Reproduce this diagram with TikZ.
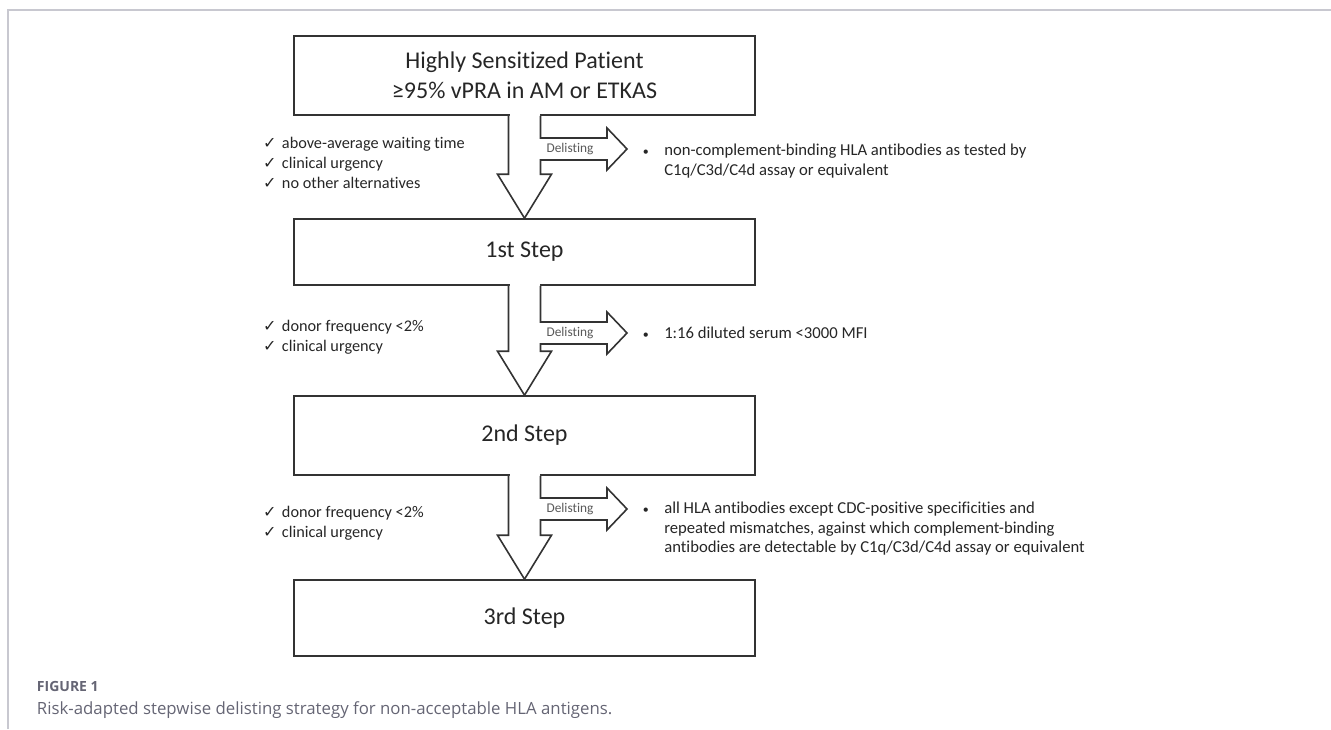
\documentclass[tikz,border=0pt]{standalone}
\usepackage{fontspec}
\setmainfont{Carlito}[Ligatures=CommonOff]
\newfontfamily\captionfont{Open Sans}
\newfontfamily\symfont{DejaVu Sans}
\usepackage{tikz}
\usetikzlibrary{calc}
\usetikzlibrary{positioning}
\definecolor{linegray}{HTML}{333333}
\definecolor{textdark}{HTML}{262626}
\definecolor{delistgray}{HTML}{595959}
\definecolor{captiongray}{HTML}{656574}
\definecolor{framegray}{HTML}{C8C8D0}
\newcommand\chk{\llap{{\symfont\fontsize{12}{15}\selectfont ✓}\hspace{4pt}}}
\newcommand\bul{\llap{{\fontsize{9}{15}\selectfont\textbullet}\hspace{11.5pt}}}
\tikzset{
    % The four stages of the strategy
    stepbox/.style={
        draw=linegray, line width=1.2pt, minimum width=345.75pt,
        align=center, inner sep=0, text=textdark,
        font=\fontsize{18}{22.5}\selectfont},
%
    % Conditions on the left, delisted antibodies on the right
    check list/.style={anchor=west, align=left, inner sep=0, text=textdark,
        font=\fontsize{12.2}{15}\selectfont},
    item list/.style={check list, font=\fontsize{12.5}{14.6}\selectfont},
%
    % Hollow block arrows between the stages
    block arrow/.style={draw=linegray, line width=1.2pt, fill=white,
        line join=miter},
    delist label/.style={inner sep=0, text=delistgray,
        font=\fontsize{10}{12}\selectfont},
%
    % Figure caption below the picture
    caption label/.style={anchor=west, inner sep=0, text=captiongray,
        font=\captionfont\bfseries\fontsize{10.5}{12}\selectfont},
    caption text/.style={anchor=west, inner sep=0, text=captiongray,
        font=\captionfont\fontsize{12.6}{15}\selectfont}}
% #1 upper box, #2 lower box, #3 tip of the side arrow
\newcommand\delistArrow[3]{%
    \fill [white] ($(#1.south)+(-15,-1.5)$) rectangle ($(#1.south)+(15,1.5)$);
    \draw [block arrow] ($(#1.south)+(-16,0)$)
        -- ($(#2.north)+(-16,-44)$) -- ++(-11,0) -- (#2.north)
        -- ++(27,-44) -- ++(-11,0)
        -- ($(#3 -| #1.south)+(16,11)$) -- ($(#3)+(-20,11)$)
        -- ++(0,10) -- (#3) -- ++(-20,-21) -- ++(0,10)
        -- ($(#3 -| #1.south)+(16,-11)$) -- ($(#1.south)+(16,0)$);
    \node [delist label] at ($(#3)+(-57,0)$) {Delisting};}

\begin{document}
\begin{tikzpicture}[x=0.75pt, y=-0.75pt]

\useasboundingbox (0,0) rectangle (1331,729);

% Page frame
\draw [framegray, line width=1.1pt] (8,729) -- (8,10) -- (1331,10);

% Stages

\node [stepbox, minimum height=59.25pt] (patient) at (524.5,75.5)
    {Highly Sensitized Patient\\≥95\% vPRA in AM or ETKAS};
\node [stepbox, minimum height=49.5pt] (first) at (524.5,252) {1st Step};
\node [stepbox, minimum height=59.25pt] (second) at (524.5,435.5) {2nd Step};
\node [stepbox, minimum height=57pt] (third) at (524.5,618) {3rd Step};

\coordinate (tip1) at (627,149);
\coordinate (tip2) at (627,333);
\coordinate (tip3) at (627,509);

\delistArrow{patient}{first}{tip1}
\delistArrow{first}{second}{tip2}
\delistArrow{second}{third}{tip3}

% Conditions for each step

\node [check list] (cond1) at (281.7,163)
    {\chk above-average waiting time\\\chk clinical urgency\\\chk no other alternatives};
\node [check list] (cond2) at (281.7,337)
    {\chk donor frequency <2\%\\\chk clinical urgency};
\node [check list] (cond3) at (281.7,523)
    {\chk donor frequency <2\%\\\chk clinical urgency};

% What is delisted

\node [item list] (delist1) at (664,161)
    {\bul non-complement-binding HLA antibodies as tested by\\
     C1q/C3d/C4d assay or equivalent};
\node [item list] (delist2) at (664,333)
    {\bul 1:16 diluted serum <3000 MFI};
\node [item list] (delist3) at (664,529)
    {\bul all HLA antibodies except CDC-positive specificities and\\
     repeated mismatches, against which complement-binding\\
     antibodies are detectable by C1q/C3d/C4d assay or equivalent};

% Caption

\node [caption label] (figlabel) at (36.7,686.7) {FIGURE 1};
\node [caption text] (figcaption) at (36.7,710)
    {Risk-adapted stepwise delisting strategy for non-acceptable HLA antigens.};

\end{tikzpicture}
\end{document}
